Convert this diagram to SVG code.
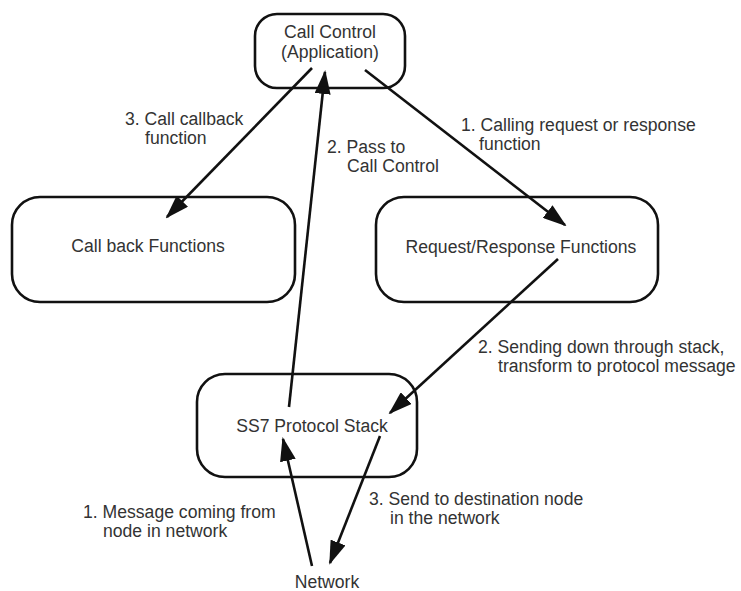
<svg xmlns="http://www.w3.org/2000/svg" width="741" height="591" viewBox="0 0 741 591">
<style>
.box{fill:none;stroke:#111;stroke-width:2.6}
.t{font-family:"Liberation Sans",Arial,sans-serif;font-size:17.6px;fill:#333}
.c{text-anchor:middle}
.ln{stroke:#111;stroke-width:2.6;fill:none;marker-end:url(#ah)}
</style>
<defs>
<marker id="ah" markerUnits="userSpaceOnUse" markerWidth="24" markerHeight="16" viewBox="0 0 24 16" refX="22" refY="8" orient="auto">
<path d="M0,0 L24,8 L0,16 z" fill="#111"/>
</marker>
</defs>
<rect width="741" height="591" fill="#fff"/>
<g id="connectors">
<line class="ln" x1="365" y1="70" x2="565" y2="225"/>
<line class="ln" x1="312" y1="68" x2="167" y2="217"/>
<line class="ln" x1="289" y1="407" x2="325" y2="72"/>
<line class="ln" x1="558" y1="259" x2="390" y2="413"/>
<line class="ln" x1="312" y1="566" x2="283" y2="439"/>
<line class="ln" x1="380" y1="436" x2="330" y2="563"/>
</g>
<g id="call-control">
<rect class="box" x="255" y="14" width="150" height="74" rx="22"/>
<text class="t c" x="330" y="38">Call Control</text>
<text class="t c" x="330" y="58">(Application)</text>
</g>
<g id="callback">
<rect class="box" x="12" y="197" width="283" height="105" rx="28"/>
<text class="t c" x="148" y="252">Call back Functions</text>
</g>
<g id="reqresp">
<rect class="box" x="376" y="197" width="282" height="105" rx="28"/>
<text class="t c" x="521" y="253">Request/Response Functions</text>
</g>
<g id="ss7">
<rect class="box" x="197" y="374" width="220" height="103" rx="28"/>
<text class="t c" x="312" y="432">SS7 Protocol Stack</text>
</g>
<g id="network">
<text class="t c" x="327" y="588">Network</text>
</g>
<g id="labels">
<text class="t" x="125" y="125">3. Call callback</text>
<text class="t" x="145" y="144">function</text>
<text class="t" x="327" y="153">2. Pass to</text>
<text class="t" x="347" y="172">Call Control</text>
<text class="t" x="461" y="131">1. Calling request or response</text>
<text class="t" x="479" y="150">function</text>
<text class="t" x="478" y="353">2. Sending down through stack,</text>
<text class="t" x="498" y="372">transform to protocol message</text>
<text class="t" x="83" y="518">1. Message coming from</text>
<text class="t" x="103" y="537">node in network</text>
<text class="t" x="369" y="505">3. Send to destination node</text>
<text class="t" x="390" y="524">in the network</text>
</g>
</svg>
